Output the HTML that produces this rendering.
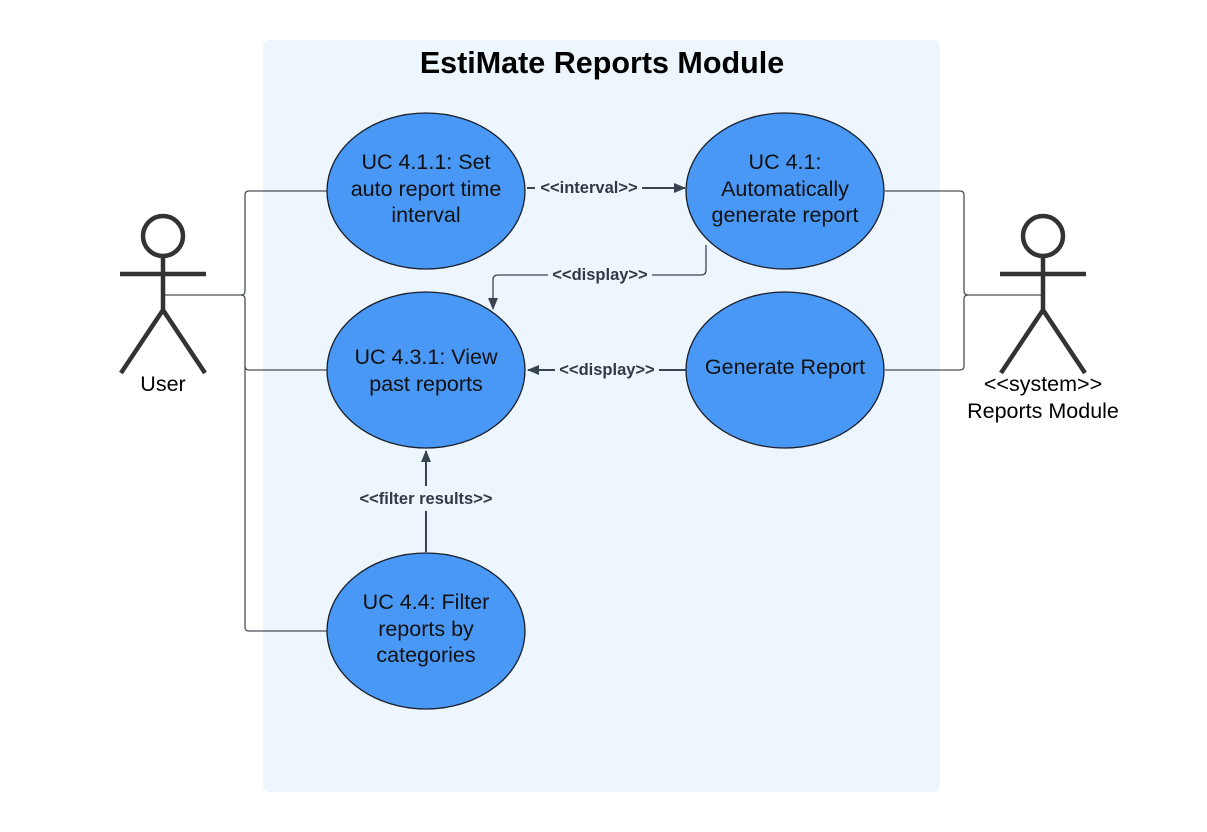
<!DOCTYPE html>
<html><head><meta charset="utf-8"><style>
html,body{margin:0;padding:0;background:#fff;}
svg{display:block;}
text{font-family:"Liberation Sans",Arial,sans-serif;}
</style></head><body>
<svg width="1207" height="832" viewBox="0 0 1207 832" xmlns="http://www.w3.org/2000/svg">
<defs>
<marker id="ar" markerWidth="12" markerHeight="10" refX="11" refY="5" orient="auto" markerUnits="userSpaceOnUse">
<path d="M0,0 L12,5 L0,10 Z" fill="#3a4350"/>
</marker>
</defs>
<rect x="263" y="40" width="677" height="752" rx="6" fill="#edf5fd"/>
<text x="602" y="73" text-anchor="middle" font-size="30.5" font-weight="bold" fill="#000">EstiMate Reports Module</text>

<g fill="none" stroke="#4a4f57" stroke-width="1.3">
<path d="M163,295 H241 Q245,295 245,291 V195 Q245,191 249,191 H327"/>
<path d="M241,295 Q245,295 245,299 V627 Q245,631 249,631 H327"/>
<path d="M245,366 Q245,370 249,370 H327"/>
<path d="M1043,295 H968 Q964,295 964,291 V195 Q964,191 960,191 H885"/>
<path d="M968,295 Q964,295 964,299 V366 Q964,370 960,370 H885"/>
</g>

<g fill="#4a98f5" stroke="#1a1f2a" stroke-width="1.3">
<ellipse cx="426" cy="191" rx="99" ry="78"/>
<ellipse cx="785" cy="191" rx="99" ry="78"/>
<ellipse cx="426" cy="370" rx="99" ry="78"/>
<ellipse cx="785" cy="370" rx="99" ry="78"/>
<ellipse cx="426" cy="631" rx="99" ry="78"/>
</g>
<g font-size="21.5" fill="#111" text-anchor="middle">
<text x="426" y="169">UC 4.1.1: Set</text>
<text x="426" y="196">auto report time</text>
<text x="426" y="222">interval</text>
<text x="785" y="169">UC 4.1:</text>
<text x="785" y="196">Automatically</text>
<text x="785" y="222">generate report</text>
<text x="426" y="364">UC 4.3.1: View</text>
<text x="426" y="391">past reports</text>
<text x="785" y="374">Generate Report</text>
<text x="426" y="609">UC 4.4: Filter</text>
<text x="426" y="636">reports by</text>
<text x="426" y="662">categories</text>
</g>

<g fill="none" stroke="#3a4350" stroke-width="2">
<path d="M527,188 H535 M642,188 H685" marker-end="url(#ar)"/>
<path d="M706,245 V270 Q706,275 701,275 H652 M548,275 H498 Q493,275 493,280 V309" stroke-width="1.3" marker-end="url(#ar)"/>
<path d="M686,370 H659 M555,370 H528" marker-end="url(#ar)"/>
<path d="M426,552 V511 M426,486 V451" marker-end="url(#ar)"/>
</g>
<g font-size="16.5" font-weight="bold" fill="#333a44" text-anchor="middle">
<text x="589" y="193">&lt;&lt;interval&gt;&gt;</text>
<text x="600" y="280">&lt;&lt;display&gt;&gt;</text>
<text x="607" y="375">&lt;&lt;display&gt;&gt;</text>
<text x="426" y="504">&lt;&lt;filter results&gt;&gt;</text>
</g>

<g fill="none" stroke="#333" stroke-width="4.5">
<circle cx="163" cy="236" r="20"/>
<path d="M163,256 V310 M120,274 H206 M163,310 L121,373 M163,310 L205,373"/>
<circle cx="1043" cy="236" r="20"/>
<path d="M1043,256 V310 M1000,274 H1086 M1043,310 L1001,373 M1043,310 L1085,373"/>
</g>
<g font-size="21.5" fill="#000" text-anchor="middle">
<text x="163" y="391">User</text>
<text x="1043" y="391">&lt;&lt;system&gt;&gt;</text>
<text x="1043" y="418">Reports Module</text>
</g>
</svg>
</body></html>
